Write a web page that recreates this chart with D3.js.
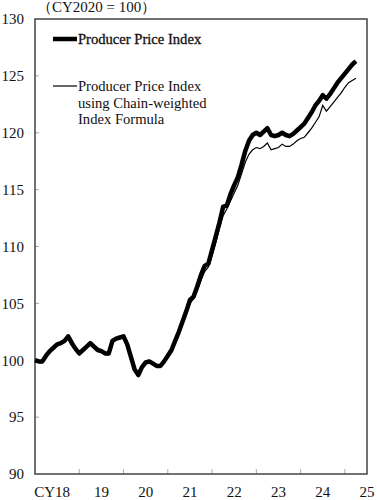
<!DOCTYPE html>
<html>
<head>
<meta charset="utf-8">
<script src="https://cdn.jsdelivr.net/npm/d3@7"></script>
<style>
  body { margin: 0; background: #fff; }
  svg text { font-family: "Liberation Serif", "Times New Roman", serif; fill: #111; }
</style>
</head>
<body>
<div id="chart"></div>
<script>
// months counted from Jan 2018 (0) to Apr 2025 (87)
const ppi = [
  100.0, 99.9, 99.9, 100.4, 100.8, 101.1, 101.4, 101.5, 101.7, 102.1, 101.5, 101.0,
  100.6, 100.9, 101.2, 101.5, 101.2, 100.9, 100.8, 100.6, 100.6, 101.7, 101.9, 102.0,
  102.1, 101.4, 100.3, 99.2, 98.7, 99.4, 99.8, 99.9, 99.7, 99.5, 99.5, 99.9,
  100.4, 100.9, 101.7, 102.5, 103.4, 104.3, 105.3, 105.6, 106.5, 107.5, 108.3, 108.5,
  109.7, 110.9, 112.1, 113.5, 113.6, 114.6, 115.4, 116.1, 117.2, 118.4, 119.3, 119.8,
  120.0, 119.8, 120.1, 120.4, 119.8, 119.7, 119.8, 120.0, 119.8, 119.7, 119.9, 120.2,
  120.5, 120.8, 121.3, 121.8, 122.4, 122.8, 123.3, 123.0, 123.4, 123.9, 124.4, 124.8,
  125.2, 125.6, 126.0, 126.3
];
const ppiChain = [
  100.0, 99.8, 99.8, 100.3, 100.7, 101.1, 101.3, 101.4, 101.6, 102.0, 101.4, 100.9,
  100.5, 100.8, 101.1, 101.4, 101.1, 100.8, 100.7, 100.5, 100.5, 101.6, 101.8, 101.9,
  102.0, 101.3, 100.2, 99.1, 98.6, 99.3, 99.7, 99.8, 99.6, 99.4, 99.4, 99.8,
  100.3, 100.8, 101.5, 102.3, 103.2, 104.0, 105.0, 105.4, 106.1, 107.0, 107.8, 108.2,
  109.2, 110.3, 111.6, 112.7, 113.3, 114.0, 114.7, 115.4, 116.4, 117.4, 118.1, 118.5,
  118.7, 118.6, 118.8, 119.1, 118.5, 118.6, 118.7, 119.0, 118.8, 118.8, 119.0, 119.3,
  119.5, 119.6, 120.0, 120.4, 120.9, 121.4, 122.4, 121.9, 122.3, 122.7, 123.1, 123.5,
  124.0, 124.4, 124.6, 124.8
];
const yearLabels = ["CY18", "19", "20", "21", "22", "23", "24", "25"];
const yTicks = [90, 95, 100, 105, 110, 115, 120, 125, 130];
const seriesNames = ["Producer Price Index", "Producer Price Index", "using Chain-weighted", "Index Formula"];

const W = 377, H = 500;
const margin = { top: 19, right: 10, bottom: 26, left: 35 };

const svg = d3.select("#chart").append("svg")
  .attr("width", W)
  .attr("height", H);

// x in months from Jan 2018, axis ends mid 2025
const x = d3.scaleLinear().domain([0, 90]).range([margin.left, W - margin.right]);
const y = d3.scaleLinear().domain([90, 130]).range([H - margin.bottom, margin.top]);

// inner ticks
svg.append("g")
  .selectAll("line")
  .data(yTicks.slice(1, -1))
  .join("line")
  .attr("x1", x(0)).attr("x2", x(0) + 4)
  .attr("y1", d => y(d)).attr("y2", d => y(d))
  .attr("stroke", "#aaa").attr("stroke-width", 1);

svg.append("g")
  .selectAll("line")
  .data(d3.range(1, 8))
  .join("line")
  .attr("x1", d => x(d * 12)).attr("x2", d => x(d * 12))
  .attr("y1", y(90)).attr("y2", y(90) - 5)
  .attr("stroke", "#aaa").attr("stroke-width", 1);

// frame
svg.append("rect")
  .attr("x", x(0)).attr("y", y(130))
  .attr("width", x(90) - x(0)).attr("height", y(90) - y(130))
  .attr("fill", "none").attr("stroke", "#444").attr("stroke-width", 1.5);

// y labels
svg.append("g")
  .selectAll("text")
  .data(yTicks)
  .join("text")
  .attr("x", 24)
  .attr("y", d => y(d))
  .attr("dy", "0.35em")
  .attr("text-anchor", "end")
  .style("font-size", "15px")
  .text(d => d);

// x labels, centred in each year
svg.append("g")
  .selectAll("text")
  .data(yearLabels)
  .join("text")
  .attr("x", (d, i) => i === 0 ? x(6) - 5 : x(i * 12 + 6))
  .attr("y", 497)
  .attr("text-anchor", "middle")
  .style("font-size", "15px")
  .text(d => d);

svg.append("text")
  .attr("x", 37)
  .attr("y", 12)
  .style("font-size", "15px")
  .text("（CY2020 = 100）");

const line = d3.line()
  .x((d, i) => x(i))
  .y(d => y(d));

svg.append("path")
  .datum(ppiChain)
  .attr("d", line)
  .attr("fill", "none")
  .attr("stroke", "#000")
  .attr("stroke-width", 1.2);

svg.append("path")
  .datum(ppi)
  .attr("d", line)
  .attr("fill", "none")
  .attr("stroke", "#000")
  .attr("stroke-width", 4.5)
  .attr("stroke-linejoin", "round");

// legend
const legend = svg.append("g");

legend.append("line")
  .attr("x1", 53).attr("x2", 77)
  .attr("y1", 39).attr("y2", 39)
  .attr("stroke", "#000").attr("stroke-width", 4.5);

legend.append("text")
  .attr("x", 78).attr("y", 44)
  .style("font-size", "14.6px")
  .style("stroke", "#111")
  .style("stroke-width", 0.3)
  .text(seriesNames[0]);

legend.append("line")
  .attr("x1", 53).attr("x2", 77)
  .attr("y1", 86).attr("y2", 86)
  .attr("stroke", "#000").attr("stroke-width", 1.2);

legend.selectAll("text.chain")
  .data(seriesNames.slice(1))
  .join("text")
  .attr("class", "chain")
  .attr("x", 78)
  .attr("y", (d, i) => 91 + i * 16.5)
  .style("font-size", "14.6px")
  .text(d => d);
</script>
</body>
</html>
